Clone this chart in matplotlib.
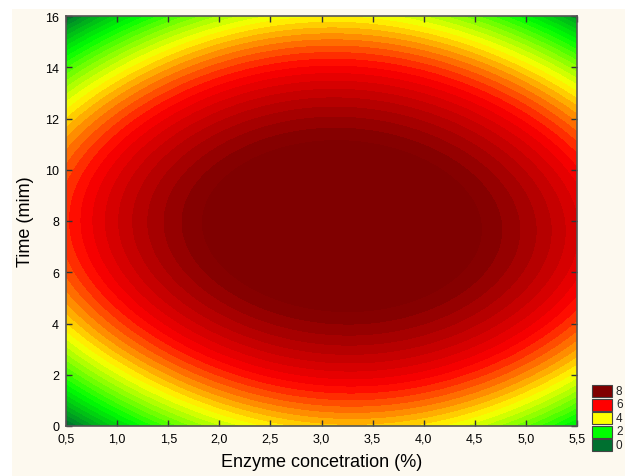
import numpy as np
import matplotlib
matplotlib.use("Agg")
import matplotlib.pyplot as plt
from matplotlib.colors import LinearSegmentedColormap
from matplotlib.patches import Rectangle

# fitted response surface
x_opt = 3.2        # enzyme concentration at the optimum (%)
y_opt = 7.8        # time at the optimum (min)
z_peak = 8.8
k_xx = 0.43        # curvature along enzyme axis
k_yy = 0.072       # curvature along time axis
k_xy = -0.015      # interaction
k_xxyy = 0.0025    # corner fall-off

x_range = [0.5, 5.5]
y_range = [0, 16]
x_ticks = [0.5, 1.0, 1.5, 2.0, 2.5, 3.0, 3.5, 4.0, 4.5, 5.0, 5.5]
y_ticks = [0, 2, 4, 6, 8, 10, 12, 14, 16]
legend_values = [8, 6, 4, 2, 0]
legend_colors = ["#800000", "#ff0000", "#ffff00", "#00ff00", "#007030"]

cmap = LinearSegmentedColormap.from_list(
    "statistica",
    [(0.0, "#007030"), (0.25, "#00ff00"), (0.5, "#ffff00"), (0.75, "#ff0000"), (1.0, "#800000")])
cmap.set_under("#005a20")
cmap.set_over("#800000")

xs = np.linspace(x_range[0], x_range[1], 300)
ys = np.linspace(y_range[0], y_range[1], 300)
X, Y = np.meshgrid(xs, ys)
dx = X - x_opt
dy = Y - y_opt
Z = z_peak - k_xx * dx**2 - k_yy * dy**2 + k_xy * dx * dy - k_xxyy * dx**2 * dy**2

cream = "#fdf9ef"
fig = plt.figure(figsize=(6.25, 4.77), dpi=100, facecolor=cream)
fig.patches.append(Rectangle((0, 1 - 10 / 477), 1, 10 / 477, transform=fig.transFigure,
                             facecolor="white", edgecolor="none", zorder=-1))
fig.patches.append(Rectangle((0, 0), 12 / 625, 1, transform=fig.transFigure,
                             facecolor="white", edgecolor="none", zorder=-1))

ax = fig.add_axes([66 / 625, 50 / 477, 511 / 625, 410 / 477])
levels = np.arange(-2.0, 9.51, 0.25)
norm = matplotlib.colors.Normalize(vmin=0, vmax=8)
ax.contourf(X, Y, Z, levels=levels, cmap=cmap, norm=norm, extend="both", antialiased=False)

ax.set_xlim(x_range)
ax.set_ylim(y_range)
ax.set_xticks(x_ticks)
ax.set_xticklabels([f"{v:.1f}".replace(".", ",") for v in x_ticks])
ax.set_yticks(y_ticks)
ax.set_yticklabels([str(v) for v in y_ticks])
ax.tick_params(direction="in", length=4, width=1, color="#333333", top=True, right=True,
               labelsize=9, pad=5)
for lab in ax.get_xticklabels() + ax.get_yticklabels():
    lab.set_fontfamily("Liberation Sans")
for s in ax.spines.values():
    s.set_color("#555555")
    s.set_linewidth(1.2)

ax.set_xlabel("Enzyme concetration (%)", fontsize=13, fontfamily="Liberation Sans", labelpad=6)
ax.set_ylabel("Time (mim)", fontsize=13, fontfamily="Liberation Sans", labelpad=8)

# legend
for i, (val, col) in enumerate(zip(legend_values, legend_colors)):
    ytop = 386 + i * 13.5
    fig.patches.append(Rectangle((592 / 625, 1 - (ytop + 12) / 477), 20 / 625, 12 / 477,
                                 transform=fig.transFigure, facecolor=col,
                                 edgecolor="#444444", linewidth=0.8))
    fig.text(616 / 625, 1 - (ytop + 6) / 477, str(val), fontsize=8.5, va="center", ha="left",
             fontfamily="Liberation Sans", color="#222222")

fig.savefig("out.png", dpi=100, facecolor=cream)
